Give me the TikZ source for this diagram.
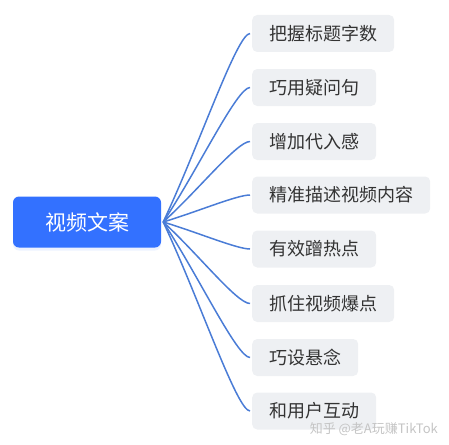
\documentclass[tikz,border=0pt]{standalone}
\usepackage{fontspec}
\setmainfont{Noto Sans CJK SC}
\usetikzlibrary{calc,shadows}
\definecolor{rootblue}{HTML}{3371FF}
\definecolor{linkblue}{HTML}{4A7CD6}
\definecolor{boxgray}{HTML}{EEF0F3}
\definecolor{txtgray}{HTML}{333333}
\definecolor{wmgray}{HTML}{C4C4C4}
\tikzset{
  rootbox/.style={rounded corners=6pt, fill=rootblue, text=white, minimum width=148pt, minimum height=51pt, inner sep=0pt,
    font=\fontsize{21pt}{21pt}\selectfont,
    drop shadow={shadow xshift=0pt, shadow yshift=-3pt, opacity=0.18, fill=rootblue!50}},
  leafbox/.style={rounded corners=5pt, fill=boxgray, text=txtgray, anchor=west, minimum height=37pt, inner xsep=17pt, inner ysep=0pt,
    font=\fontsize{18pt}{18pt}\selectfont},
  link/.style={draw=linkblue, line width=1.5pt}
}
\begin{document}
\begin{tikzpicture}[x=1pt,y=-1pt]
\useasboundingbox (0,0) rectangle (449,444);
\node[rootbox] (root) at (87,222) {视频文案};
\node[leafbox] (c1) at (252,33.5) {把握标题字数};
\node[leafbox] (c2) at (252,87.5) {巧用疑问句};
\node[leafbox] (c3) at (252,141.5) {增加代入感};
\node[leafbox] (c4) at (252,195) {精准描述视频内容};
\node[leafbox] (c5) at (252,249) {有效蹭热点};
\node[leafbox] (c6) at (252,303.5) {抓住视频爆点};
\node[leafbox] (c7) at (252,357.5) {巧设悬念};
\node[leafbox] (c8) at (252,411) {和用户互动};
\coordinate (hub) at ($(root.east)+(2,0)$);
\foreach \c in {c1,c2,c3,c4,c5,c6,c7,c8}{
  \draw[link] (hub) .. controls ($(hub)!0.4!(\c.west)$) and ($(\c.west)+(-15,0)$) .. ($(\c.west)+(-2,0)$);
}
\node[text=wmgray, font=\fontsize{13pt}{13pt}\selectfont, anchor=east, inner sep=0pt] (wm) at (438,429) {知乎 @老A玩赚TikTok};
\end{tikzpicture}
\end{document}
